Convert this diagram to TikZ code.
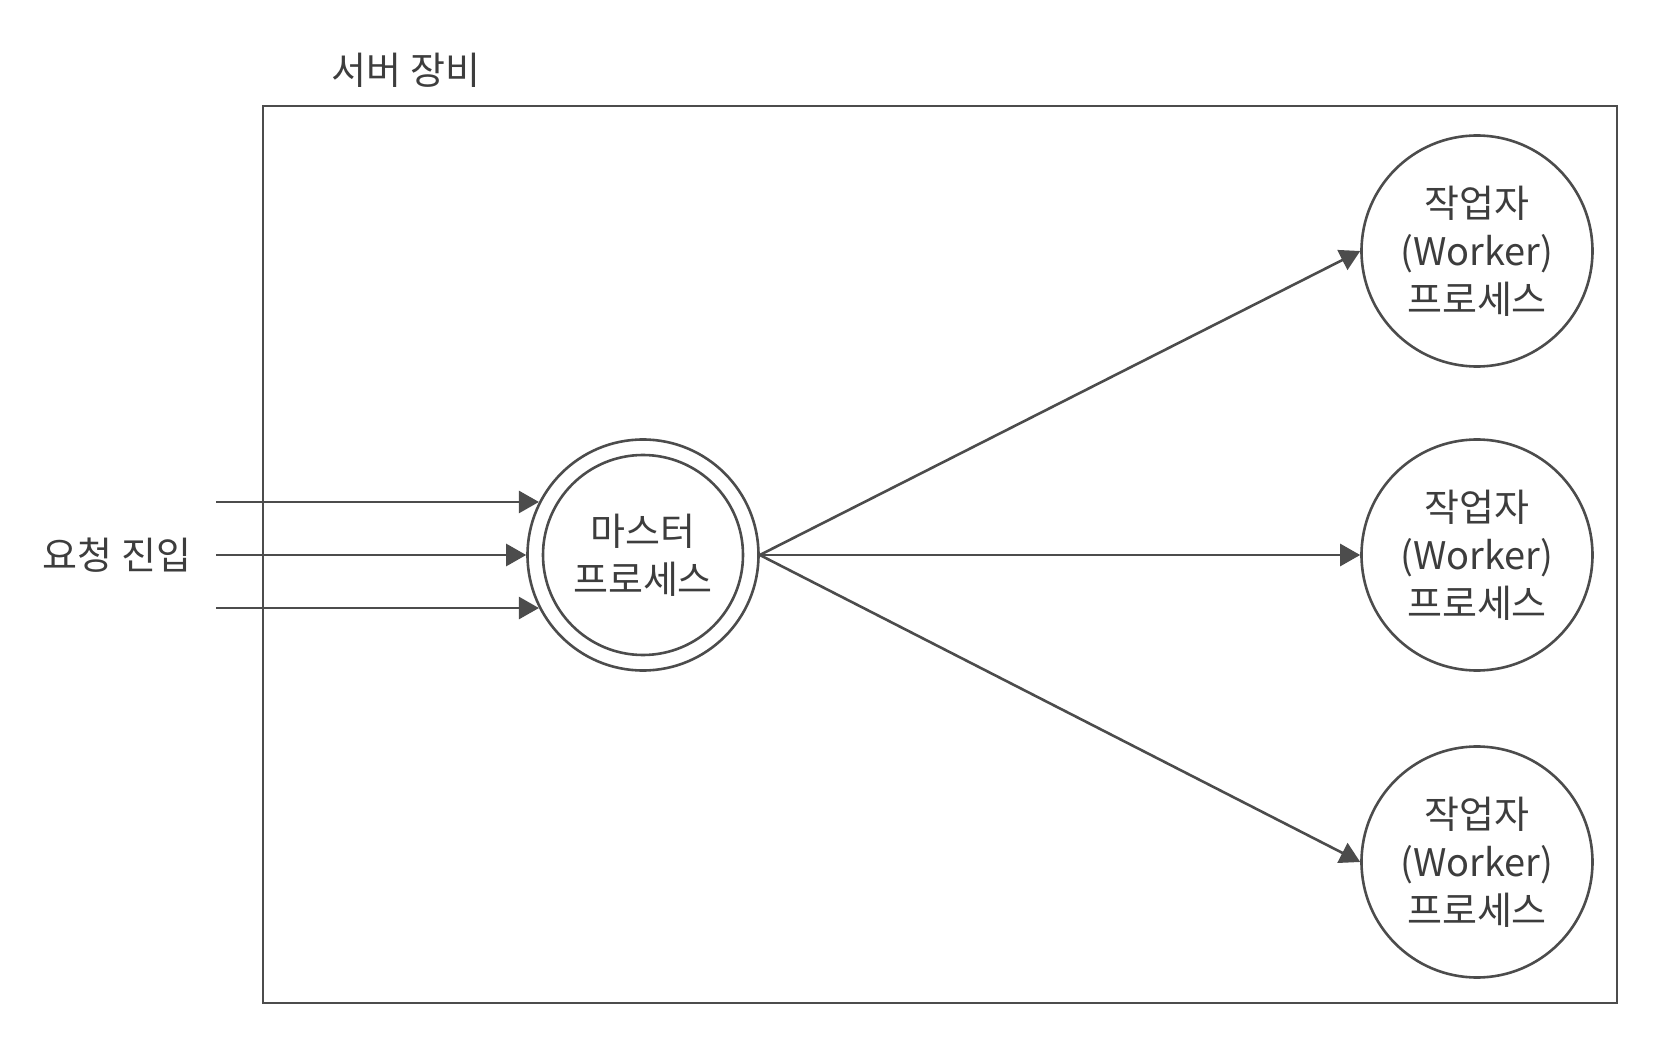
\documentclass[tikz,border=0pt]{standalone}
\usepackage{fontspec}
\setmainfont{Noto Sans CJK KR}
\usepackage{tikz}
\usetikzlibrary{arrows.meta}
\usepackage{xcolor}
\definecolor{linegray}{rgb}{0.30,0.30,0.30}
\definecolor{textgray}{rgb}{0.24,0.24,0.24}

\begin{document}
\begin{tikzpicture}[
x = 0.5pt, y = -0.5pt,
every node/.style = {text = textgray, font = \fontsize{19}{24}\selectfont, align = center},
  line/.style = {draw = linegray, line width = 1.3pt},
  arrow/.style = {line, -{Triangle[length = 10pt, width = 11pt]}},
  proc/.style = {line, circle, inner sep = 0pt, minimum size = 115.5pt}
]
\useasboundingbox (0,0) rectangle (1662,1048);
% server box
\draw[line] (263,106) rectangle (1617,1003);
\node (title) at (406,70) {서버 장비};
% master
\node[proc] (master) at (643,555) {마스터\\프로세스};
\node[proc, minimum size = 100pt] (masterin) at (master.center) {};
% workers
\node[proc] (worker1) at (1477,251) {작업자\\(Worker)\\프로세스};
\node[proc] (worker2) at (1477,555) {작업자\\(Worker)\\프로세스};
\node[proc] (worker3) at (1477,862) {작업자\\(Worker)\\프로세스};
% requests
\node (req) at (117,555) {요청 진입};
\coordinate (reqstart) at (216,555);
\foreach \a in {153,180,207}
  \draw[arrow] (master.\a -| reqstart) -- (master.\a);
\foreach \w in {1,2,3}
  \draw[arrow] (master.east) -- (worker\w.west);
\end{tikzpicture}
\end{document}
